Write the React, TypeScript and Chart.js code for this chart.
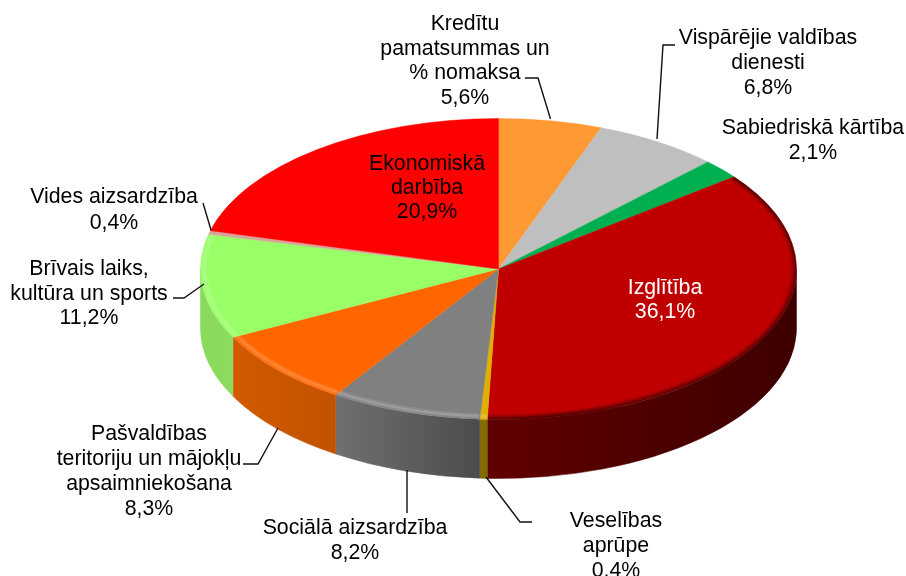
import React, { useEffect, useRef } from "react";
import { Chart, registerables } from "chart.js";

Chart.register(...registerables);

// Data, clockwise from twelve o'clock
const categories = [
  "Kredītu\npamatsummas un\n% nomaksa",
  "Vispārējie valdības\ndienesti",
  "Sabiedriskā kārtība",
  "Izglītība",
  "Veselības\naprūpe",
  "Sociālā aizsardzība",
  "Pašvaldības\nteritoriju un mājokļu\napsaimniekošana",
  "Brīvais laiks,\nkultūra un sports",
  "Vides aizsardzība",
  "Ekonomiskā\ndarbība",
];
const shares = [5.6, 6.8, 2.1, 36.1, 0.4, 8.2, 8.3, 11.2, 0.4, 20.9];

// Styles
const faceColors = ["#FF9933", "#BFBFBF", "#00B050", "#C00000", "#E0B000", "#808080", "#FF6600", "#99FF66", "#D9A39A", "#FF0000"];
const wallFrom = ["#000", "#000", "#000", "#600000", "#8A7000", "#707070", "#D25A00", "#89D95B", "#000", "#000"];
const wallTo = ["#000", "#000", "#000", "#3E0000", "#806800", "#4C4C4C", "#C25200", "#8DDC60", "#000", "#000"];
const rimKind = ["", "", "", "dark", "light", "light", "light", "light", "", ""];
const labelColors = ["#000", "#000", "#000", "#fff", "#000", "#000", "#000", "#000", "#000", "#000"];

// Layout
const CX = 498.5;
const CY = 269;
const RX = 298;
const RY = 150.5;
const DEPTH = 59;
const FONT = '21.3px "Liberation Sans", Arial, sans-serif';
const labelX = [465, 768, 813, 665, 616, 355, 149, 89, 114, 427];
const labelY = [24.5, 38.5, 128.5, 288.5, 521.5, 528.5, 434.5, 269.5, 197.5, 164.5];
const lineStep = [24.4, 25, 25, 24, 25, 25, 25, 24.5, 26, 24];
const leaders: number[][][] = [
  [[525, 78], [538, 78], [550.5, 119]],
  [[675, 45], [663, 45], [657, 139]],
  [],
  [],
  [[486, 477], [520, 522], [532, 522]],
  [[407, 470], [407, 513]],
  [[243, 464], [258, 464], [278, 428]],
  [[173, 298], [184, 298], [204, 284]],
  [[203, 203], [211, 230]],
  [],
];

const percent = (v: number) => v.toFixed(1).replace(".", ",") + "%";

const pie3d = {
  id: "pie3d",
  beforeDatasetsDraw(chart: any) {
    const ctx = chart.ctx as CanvasRenderingContext2D;
    const arcs = chart.getDatasetMeta(0).data;
    arcs.forEach((arc: any, i: number) => {
      const a0 = Math.max(arc.startAngle, 0);
      const a1 = Math.min(arc.endAngle, Math.PI);
      if (a1 <= a0) return;
      const x0 = CX + RX * Math.cos(a1);
      const x1 = CX + RX * Math.cos(a0);
      const g = ctx.createLinearGradient(x0, 0, x1, 0);
      g.addColorStop(0, wallFrom[i]);
      g.addColorStop(1, wallTo[i]);
      ctx.beginPath();
      ctx.ellipse(CX, CY, RX, RY, 0, a0, a1);
      ctx.ellipse(CX, CY + DEPTH, RX, RY, 0, a1, a0, true);
      ctx.closePath();
      ctx.fillStyle = g;
      ctx.strokeStyle = g;
      ctx.lineWidth = 0.5;
      ctx.fill();
      ctx.stroke();
    });
    ctx.save();
    const c = arcs[0];
    ctx.translate(CX, CY);
    ctx.scale(1, RY / RX);
    ctx.translate(-c.x, -c.y);
  },
  afterDatasetsDraw(chart: any) {
    const ctx = chart.ctx as CanvasRenderingContext2D;
    ctx.restore();
    const arcs = chart.getDatasetMeta(0).data;
    arcs.forEach((arc: any, i: number) => {
      const kind = rimKind[i];
      if (!kind) return;
      for (let d = 0.5; d < 8; d += 1) {
        const alpha =
          kind === "dark"
            ? 0.55 * Math.pow(1 - d / 8, 1.8)
            : 0.2 * Math.max(0, 1 - Math.abs(d - 4) / 4);
        ctx.beginPath();
        ctx.ellipse(CX, CY, RX - d, RY - d * 0.8, 0, arc.startAngle + 0.002, arc.endAngle - 0.002);
        ctx.strokeStyle = kind === "dark" ? `rgba(0,0,0,${alpha})` : `rgba(255,255,255,${alpha})`;
        ctx.lineWidth = 1.1;
        ctx.stroke();
      }
    });

    ctx.strokeStyle = "#111";
    ctx.lineWidth = 1.4;
    leaders.forEach((pts) => {
      if (!pts.length) return;
      ctx.beginPath();
      pts.forEach(([x, y], k) => (k ? ctx.lineTo(x, y) : ctx.moveTo(x, y)));
      ctx.stroke();
    });

    ctx.font = FONT;
    ctx.textAlign = "center";
    ctx.textBaseline = "middle";
    categories.forEach((name, i) => {
      ctx.fillStyle = labelColors[i];
      const lines = [...name.split("\n"), percent(shares[i])];
      lines.forEach((line, k) => ctx.fillText(line, labelX[i], labelY[i] + k * lineStep[i]));
    });
  },
};

export default function App() {
  const ref = useRef<HTMLCanvasElement>(null);
  useEffect(() => {
    const chart = new Chart(ref.current!, {
      type: "pie",
      data: {
        labels: categories,
        datasets: [
          {
            data: shares,
            backgroundColor: faceColors,
            borderColor: faceColors,
            borderWidth: 0.6,
            clip: false,
          } as any,
        ],
      },
      options: {
        responsive: false,
        animation: false,
        radius: RX,
        layout: { padding: 0 },
        plugins: { legend: { display: false }, tooltip: { enabled: false } },
      } as any,
      plugins: [pie3d],
    });
    return () => chart.destroy();
  }, []);
  return (
    <canvas
      ref={ref}
      width={906}
      height={576}
      style={{ position: "fixed", left: 0, top: 0, width: 906, height: 576, background: "#fff" }}
    />
  );
}
